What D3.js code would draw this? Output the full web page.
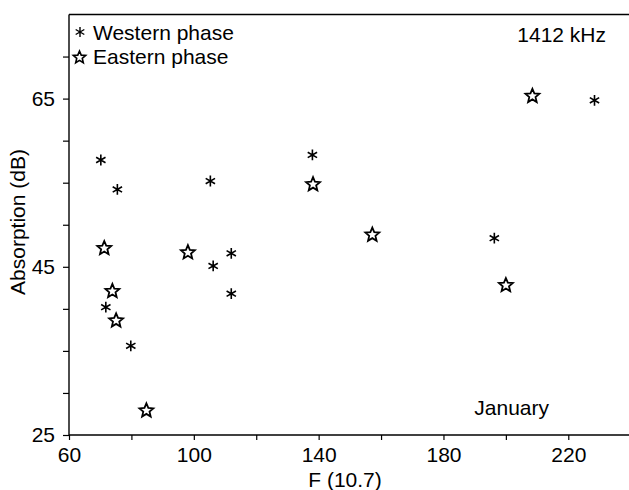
<!DOCTYPE html>
<html><head><meta charset="utf-8">
<script src="https://cdn.jsdelivr.net/npm/d3@7"></script>
<style>
body{margin:0;background:#fff;}
svg{display:block;font-family:"Liberation Sans",Arial,Helvetica,sans-serif;}
</style></head>
<body>
<svg id="c" width="629" height="490"></svg>
<script>
// Data
const westernF   = [70.2, 75.5, 71.8, 79.8, 105.3, 106.2, 112.0, 112.0, 138.0, 196.3, 228.4];
const westernAbs = [57.7, 54.2, 40.2, 35.6, 55.2, 45.1, 46.6, 41.8, 58.3, 48.4, 64.8];
const easternF   = [71.3, 73.9, 75.1, 84.8, 98.1, 138.2, 157.2, 200.0, 208.5];
const easternAbs = [47.2, 42.1, 38.6, 27.9, 46.7, 54.8, 48.8, 42.8, 65.3];
const xTicks = [60, 80, 100, 120, 140, 160, 180, 200, 220];
const xLabels = [60, 100, 140, 180, 220];
const yTicks = [25, 30, 35, 40, 45, 50, 55, 60, 65, 70];
const yLabels = [25, 45, 65];

const svg = d3.select("#c");
const x = d3.scaleLinear().domain([60, 240]).range([69, 630.7]);
const y = d3.scaleLinear().domain([25, 75]).range([435, 14.5]);

// top frame line
svg.append("line").attr("x1", x(60)).attr("x2", x(240)).attr("y1", y(75)).attr("y2", y(75))
  .attr("stroke", "#000").attr("stroke-width", 1.3);

const xAxis = d3.axisBottom(x).tickValues(xTicks).tickSize(5)
  .tickFormat(d => xLabels.includes(d) ? d : "");
const gx = svg.append("g").attr("transform", `translate(0,${y(25)})`).call(xAxis);
gx.select(".domain").attr("d", `M${x(60)},0H${x(240)}`);
gx.selectAll(".tick text").attr("y", 26.5).attr("dy", 0);

const yAxis = d3.axisLeft(y).tickValues(yTicks).tickSize(6).tickPadding(8)
  .tickFormat(d => yLabels.includes(d) ? d : "");
const gy = svg.append("g").attr("transform", `translate(${x(60)},0)`).call(yAxis);
gy.select(".domain").attr("d", `M0,${y(25)}V${y(75)}`);

svg.selectAll(".domain").attr("stroke", "#000").attr("stroke-width", 1.4);
svg.selectAll(".tick line").attr("stroke", "#000").attr("stroke-width", 1.2);
svg.selectAll(".tick text").attr("fill", "#000").style("font-size", "21px")
  .style("font-family", '"Liberation Sans",Arial,sans-serif');

// axis titles
svg.append("text").attr("x", 345).attr("y", 486.5).attr("text-anchor", "middle")
  .style("font-size", "21px").text("F (10.7)");
svg.append("text").attr("transform", "translate(25,222) rotate(-90)").attr("text-anchor", "middle")
  .style("font-size", "21px").text("Absorption (dB)");

// markers
function asteriskPath(r) {
  let d = "";
  [90, 30, 150].forEach(a => {
    const t = a * Math.PI / 180, dx = r * Math.cos(t), dy = r * Math.sin(t);
    d += `M${-dx},${-dy}L${dx},${dy}`;
  });
  return d;
}
function starPath(R) {
  const r = R * 0.45, pts = [];
  for (let i = 0; i < 10; i++) {
    const rad = i % 2 === 0 ? R : r;
    const t = -Math.PI / 2 + i * Math.PI / 5;
    pts.push([rad * Math.cos(t), rad * Math.sin(t)]);
  }
  return "M" + pts.map(p => p.join(",")).join("L") + "Z";
}

const west = westernF.map((f, i) => ({f, a: westernAbs[i]}));
const east = easternF.map((f, i) => ({f, a: easternAbs[i]}));

svg.append("g").selectAll("path").data(west).join("path")
  .attr("transform", d => `translate(${x(d.f)},${y(d.a)})`)
  .attr("d", asteriskPath(5.4)).attr("stroke", "#000").attr("stroke-width", 1.6).attr("fill", "none");

svg.append("g").selectAll("path").data(east).join("path")
  .attr("transform", d => `translate(${x(d.f)},${y(d.a)})`)
  .attr("d", starPath(7.3)).attr("stroke", "#000").attr("stroke-width", 1.8)
  .attr("stroke-linejoin", "miter").attr("fill", "#fff");

// legend
svg.append("path").attr("transform", "translate(80,32)").attr("d", asteriskPath(5))
  .attr("stroke", "#000").attr("stroke-width", 1.4).attr("fill", "none");
svg.append("path").attr("transform", "translate(79.5,57.5)").attr("d", starPath(6.5))
  .attr("stroke", "#000").attr("stroke-width", 1.6).attr("fill", "#fff");
svg.append("text").attr("x", 93).attr("y", 40).style("font-size", "21px").text("Western phase");
svg.append("text").attr("x", 93).attr("y", 64).style("font-size", "21px").text("Eastern phase");

svg.append("text").attr("x", 606).attr("y", 42).attr("text-anchor", "end")
  .style("font-size", "21px").text("1412 kHz");
svg.append("text").attr("x", 549).attr("y", 415).attr("text-anchor", "end")
  .style("font-size", "21px").text("January");
</script>
</body></html>
